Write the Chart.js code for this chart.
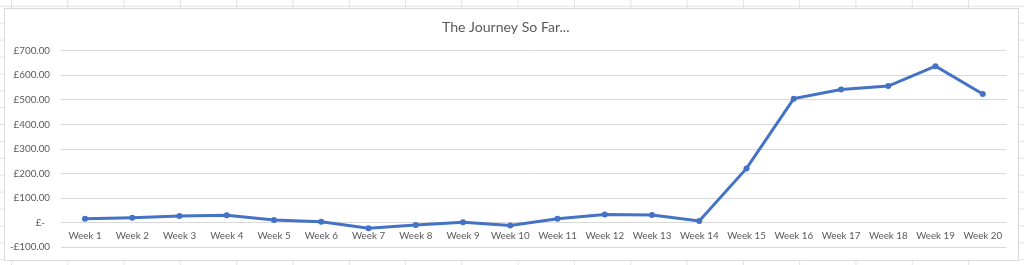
<!DOCTYPE html>
<html>
<head>
<meta charset="utf-8">
<script src="https://cdn.jsdelivr.net/npm/chart.js@4"></script>
<style>
  html, body { margin: 0; padding: 0; }
  body {
    width: 1024px; height: 265px; overflow: hidden; position: relative;
    background-color: #ffffff;
    background-image:
      linear-gradient(to right, #e2e2e2 1px, transparent 1px),
      linear-gradient(to bottom, #e2e2e2 1px, transparent 1px);
    background-size: 56.3px 100%, 100% 16.9px;
    background-position: 11px 0, 0 5.8px;
  }
  #frame {
    position: absolute; left: 4px; top: 8px; width: 1015px; height: 253px;
    box-sizing: border-box; border: 1px solid #d9d9d9; background: #ffffff;
  }
  #c { display: block; }
</style>
</head>
<body>
<div id="frame"><canvas id="c" width="1013" height="251"></canvas></div>
<script>
const categories = ["Week 1","Week 2","Week 3","Week 4","Week 5","Week 6","Week 7","Week 8","Week 9","Week 10",
  "Week 11","Week 12","Week 13","Week 14","Week 15","Week 16","Week 17","Week 18","Week 19","Week 20"];
const seriesValues = [16, 20, 27, 30, 11, 4, -22, -9, 2, -11, 16, 33, 31, 7, 221, 505, 542, 556, 637, 524];
const yTickValues = [-100, 0, 100, 200, 300, 400, 500, 600, 700];
const chartTitle = "The Journey So Far...";

function fmtMoney(v) {
  if (v === 0) return "£-  ";
  const s = "£" + Math.abs(v).toFixed(2);
  return v < 0 ? "-" + s : s;
}

const txt = "#595959";
new Chart(document.getElementById("c"), {
  type: "line",
  data: {
    labels: categories,
    datasets: [{
      data: seriesValues,
      borderColor: "#4472C4",
      backgroundColor: "#4472C4",
      borderWidth: 3,
      pointRadius: 3,
      pointHoverRadius: 3,
      pointBorderWidth: 0,
      tension: 0,
      fill: false
    }]
  },
  options: {
    responsive: false,
    devicePixelRatio: 1,
    animation: false,
    layout: { padding: { left: 0, right: 11.6, top: 0, bottom: 12.7 } },
    plugins: {
      legend: { display: false },
      tooltip: { enabled: false },
      title: {
        display: true,
        text: chartTitle,
        color: txt,
        font: { family: "Lato", size: 14.1, weight: "normal", lineHeight: 1.2 },
        padding: { top: 10, bottom: 14.8 }
      }
    },
    scales: {
      x: {
        type: "category",
        offset: true,
        position: { y: 0 },
        grid: { display: false, drawTicks: false },
        border: { display: false },
        ticks: {
          color: txt,
          font: { family: "Lato", size: 9.8 },
          padding: 7,
          maxRotation: 0,
          autoSkip: false
        }
      },
      y: {
        min: -100,
        max: 700,
        afterBuildTicks: (scale) => { scale.ticks = yTickValues.map(v => ({ value: v })); },
        afterFit: (scale) => { scale.width = 56.4; },
        grid: { color: "#d9d9d9", lineWidth: 1, drawTicks: false },
        border: { display: false },
        ticks: {
          color: txt,
          font: { family: "Lato", size: 9.8, lineHeight: 0.2 },
          padding: 11.4,
          callback: (v) => fmtMoney(v)
        }
      }
    }
  }
});
</script>
</body>
</html>
